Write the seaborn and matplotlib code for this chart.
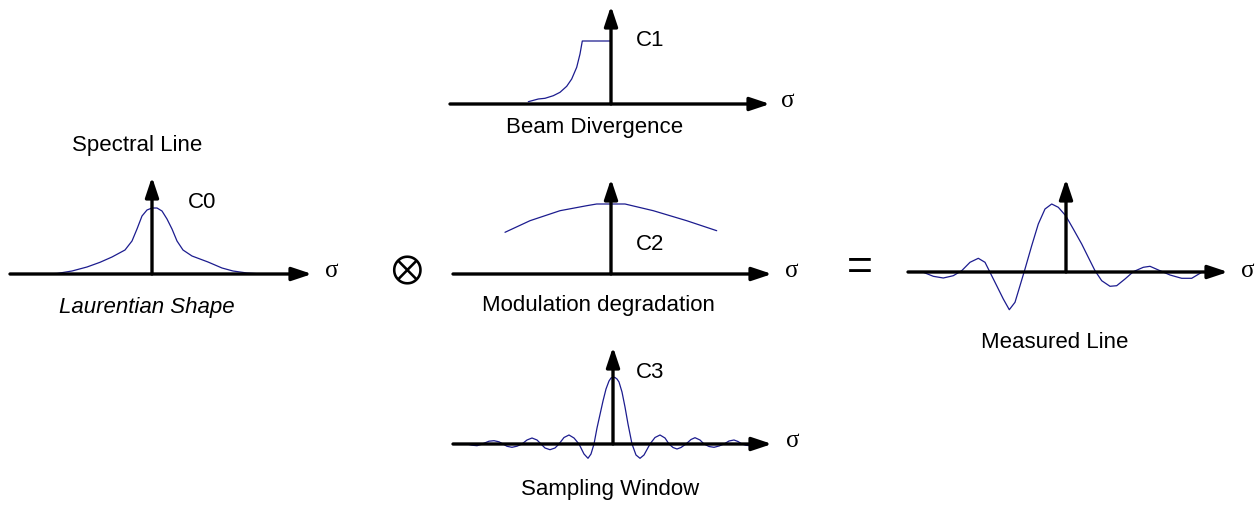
import matplotlib
matplotlib.use("Agg")
import pandas as pd
import seaborn as sns
import matplotlib.pyplot as plt

# curve samples (sigma offset, amplitude) in pixel units
c0_sigma = [-109, -95, -80, -65, -52, -40, -27, -20, -15, -10, -5, 0, 5, 10, 15, 20, 25, 31, 40, 56, 70, 81, 95, 110]
c0_amp = [0, 0.5, 3, 7, 11.7, 17, 24, 33, 45, 58, 64, 66, 66, 63, 55, 45, 33, 24, 18, 12, 6, 3, 1, 0]

c1_sigma = [-82.7, -72.7, -66, -57.7, -51, -44.3, -39.3, -34.3, -31, -28.7, 0]
c1_amp = [2.3, 5, 5.7, 8.3, 11.7, 17.7, 25, 36.7, 50, 63, 63]

c2_sigma = [-106, -81, -51, -24.3, -14.3, 14, 42.3, 75.7, 105.7]
c2_amp = [41.7, 53.3, 63.3, 68.3, 70, 70, 63.3, 53.3, 43.3]

c3_sigma = [-146, -141, -136, -132, -128, -124, -119, -114, -110, -106, -101, -96, -91,
            -86, -81, -76, -72, -68, -63, -58, -54, -49, -44, -39, -34, -29, -25, -22,
            -19, -16, -14, -10, -7, -4, -2, 0, 2, 4, 6, 9, 12, 15, 19, 23, 27, 31, 37,
            42, 47, 52, 56, 60, 64, 68, 73, 78, 82, 87, 91, 96, 101, 106, 111, 116, 121,
            125, 129, 133, 137, 141, 146]
c3_amp = [0, -1.2, -1.7, -0.5, 1.2, 2.8, 3.3, 2.2, 0, -2.3, -3.3, -2.2, 0,
          4, 6, 4, 0, -4, -5.7, -4, 0, 6.5, 9, 6, 0, -10, -14.3, -10,
          0, 16, 25, 43, 55, 63, 66, 66.7, 66.5, 65, 62, 52, 37, 20, 0, -11, -14.3, -11, 0,
          6.5, 9, 6, 0, -3.5, -5, -3.5, 0, 4.5, 6.3, 4, 0, -2.5, -3.3, -2, 0, 3, 4,
          2.5, 0, -1.3, -1.7, -1, 0]

meas_sigma = [-142.7, -132.7, -122.7, -112.7, -104.3, -96, -87.7, -81, -76, -69.3, -62.7,
              -56.7, -51, -46, -41, -34.3, -27.7, -21, -14.3, -7.7, -0.3, 7.3, 15.7, 22.3,
              29, 35.7, 44, 50.7, 59, 67.3, 77.3, 84, 94, 104, 115.7, 125.7, 135.7]
meas_amp = [-0.3, -4.3, -6, -3.7, 1.3, 9.7, 13.7, 9.7, -0.3, -13.7, -27,
            -37.7, -30.3, -13.7, 3, 26.3, 48, 63, 68, 64.7, 56.3, 43, 28, 14.7,
            1.3, -8.7, -14.3, -13.7, -7, 0.3, 4.7, 5.7, 1.3, -3, -6.3, -6.3, -0.3]

W, H = 1256, 506
LINE = "#1c1c8f"

sns.set_style("white")
plt.rcParams["font.family"] = ["Liberation Sans", "DejaVu Sans"]
plt.rcParams["text.color"] = "black"

fig = plt.figure(figsize=(W / 100, H / 100), dpi=100)

ARROW = dict(arrowstyle="-|>,head_length=0.6,head_width=0.2", lw=2.4,
             color="black", mutation_scale=20, shrinkA=0, shrinkB=0)


def panel(x0, y0, x_start, x_tip, y_tip, sigma, amp):
    L, R, T, B = 170, 175, 105, 45
    ax = fig.add_axes([(x0 - L) / W, 1 - (y0 + B) / H, (L + R) / W, (T + B) / H])
    df = pd.DataFrame({"sigma": sigma, "amp": amp})
    sns.lineplot(data=df, x="sigma", y="amp", ax=ax, color=LINE, lw=0.9,
                 sort=False, estimator=None)
    ax.set_xlim(-L, R)
    ax.set_ylim(-B, T)
    ax.set_axis_off()
    ax.annotate("", xy=(x_tip, 0), xytext=(x_start, 0), arrowprops=ARROW)
    ax.annotate("", xy=(0, y_tip), xytext=(0, 0), arrowprops=ARROW)
    return ax


panel(152, 275, -142, 160, 97, c0_sigma, c0_amp)
panel(611, 105, -161, 159, 98, c1_sigma, c1_amp)
panel(611, 275, -158, 161, 95, c2_sigma, c2_amp)
panel(613, 445, -160, 159, 97, c3_sigma, c3_amp)
panel(1066, 273, -158, 162, 93, meas_sigma, meas_amp)


def label(x, y, s, **kw):
    kw.setdefault("fontsize", 16)
    fig.text(x / W, 1 - y / H, s, ha="center", va="center", **kw)


label(137, 145, "Spectral Line")
label(202, 203, "C0")
label(147, 307, "Laurentian Shape", style="italic")
label(650, 40, "C1")
label(595, 128, "Beam Divergence")
label(650, 245, "C2")
label(598, 306, "Modulation degradation")
label(650, 373, "C3")
label(610, 490, "Sampling Window")
label(1055, 343, "Measured Line")

for sx, sy in [(332, 271), (788, 101), (792, 271), (793, 441), (1248, 271)]:
    label(sx, sy, "σ", fontsize=18, family="Liberation Serif")

label(406, 271, "⊗", fontsize=28, family=["STIXGeneral", "DejaVu Sans"])
label(860, 268, "=", fontsize=32)

fig.savefig("out.png", dpi=100)
